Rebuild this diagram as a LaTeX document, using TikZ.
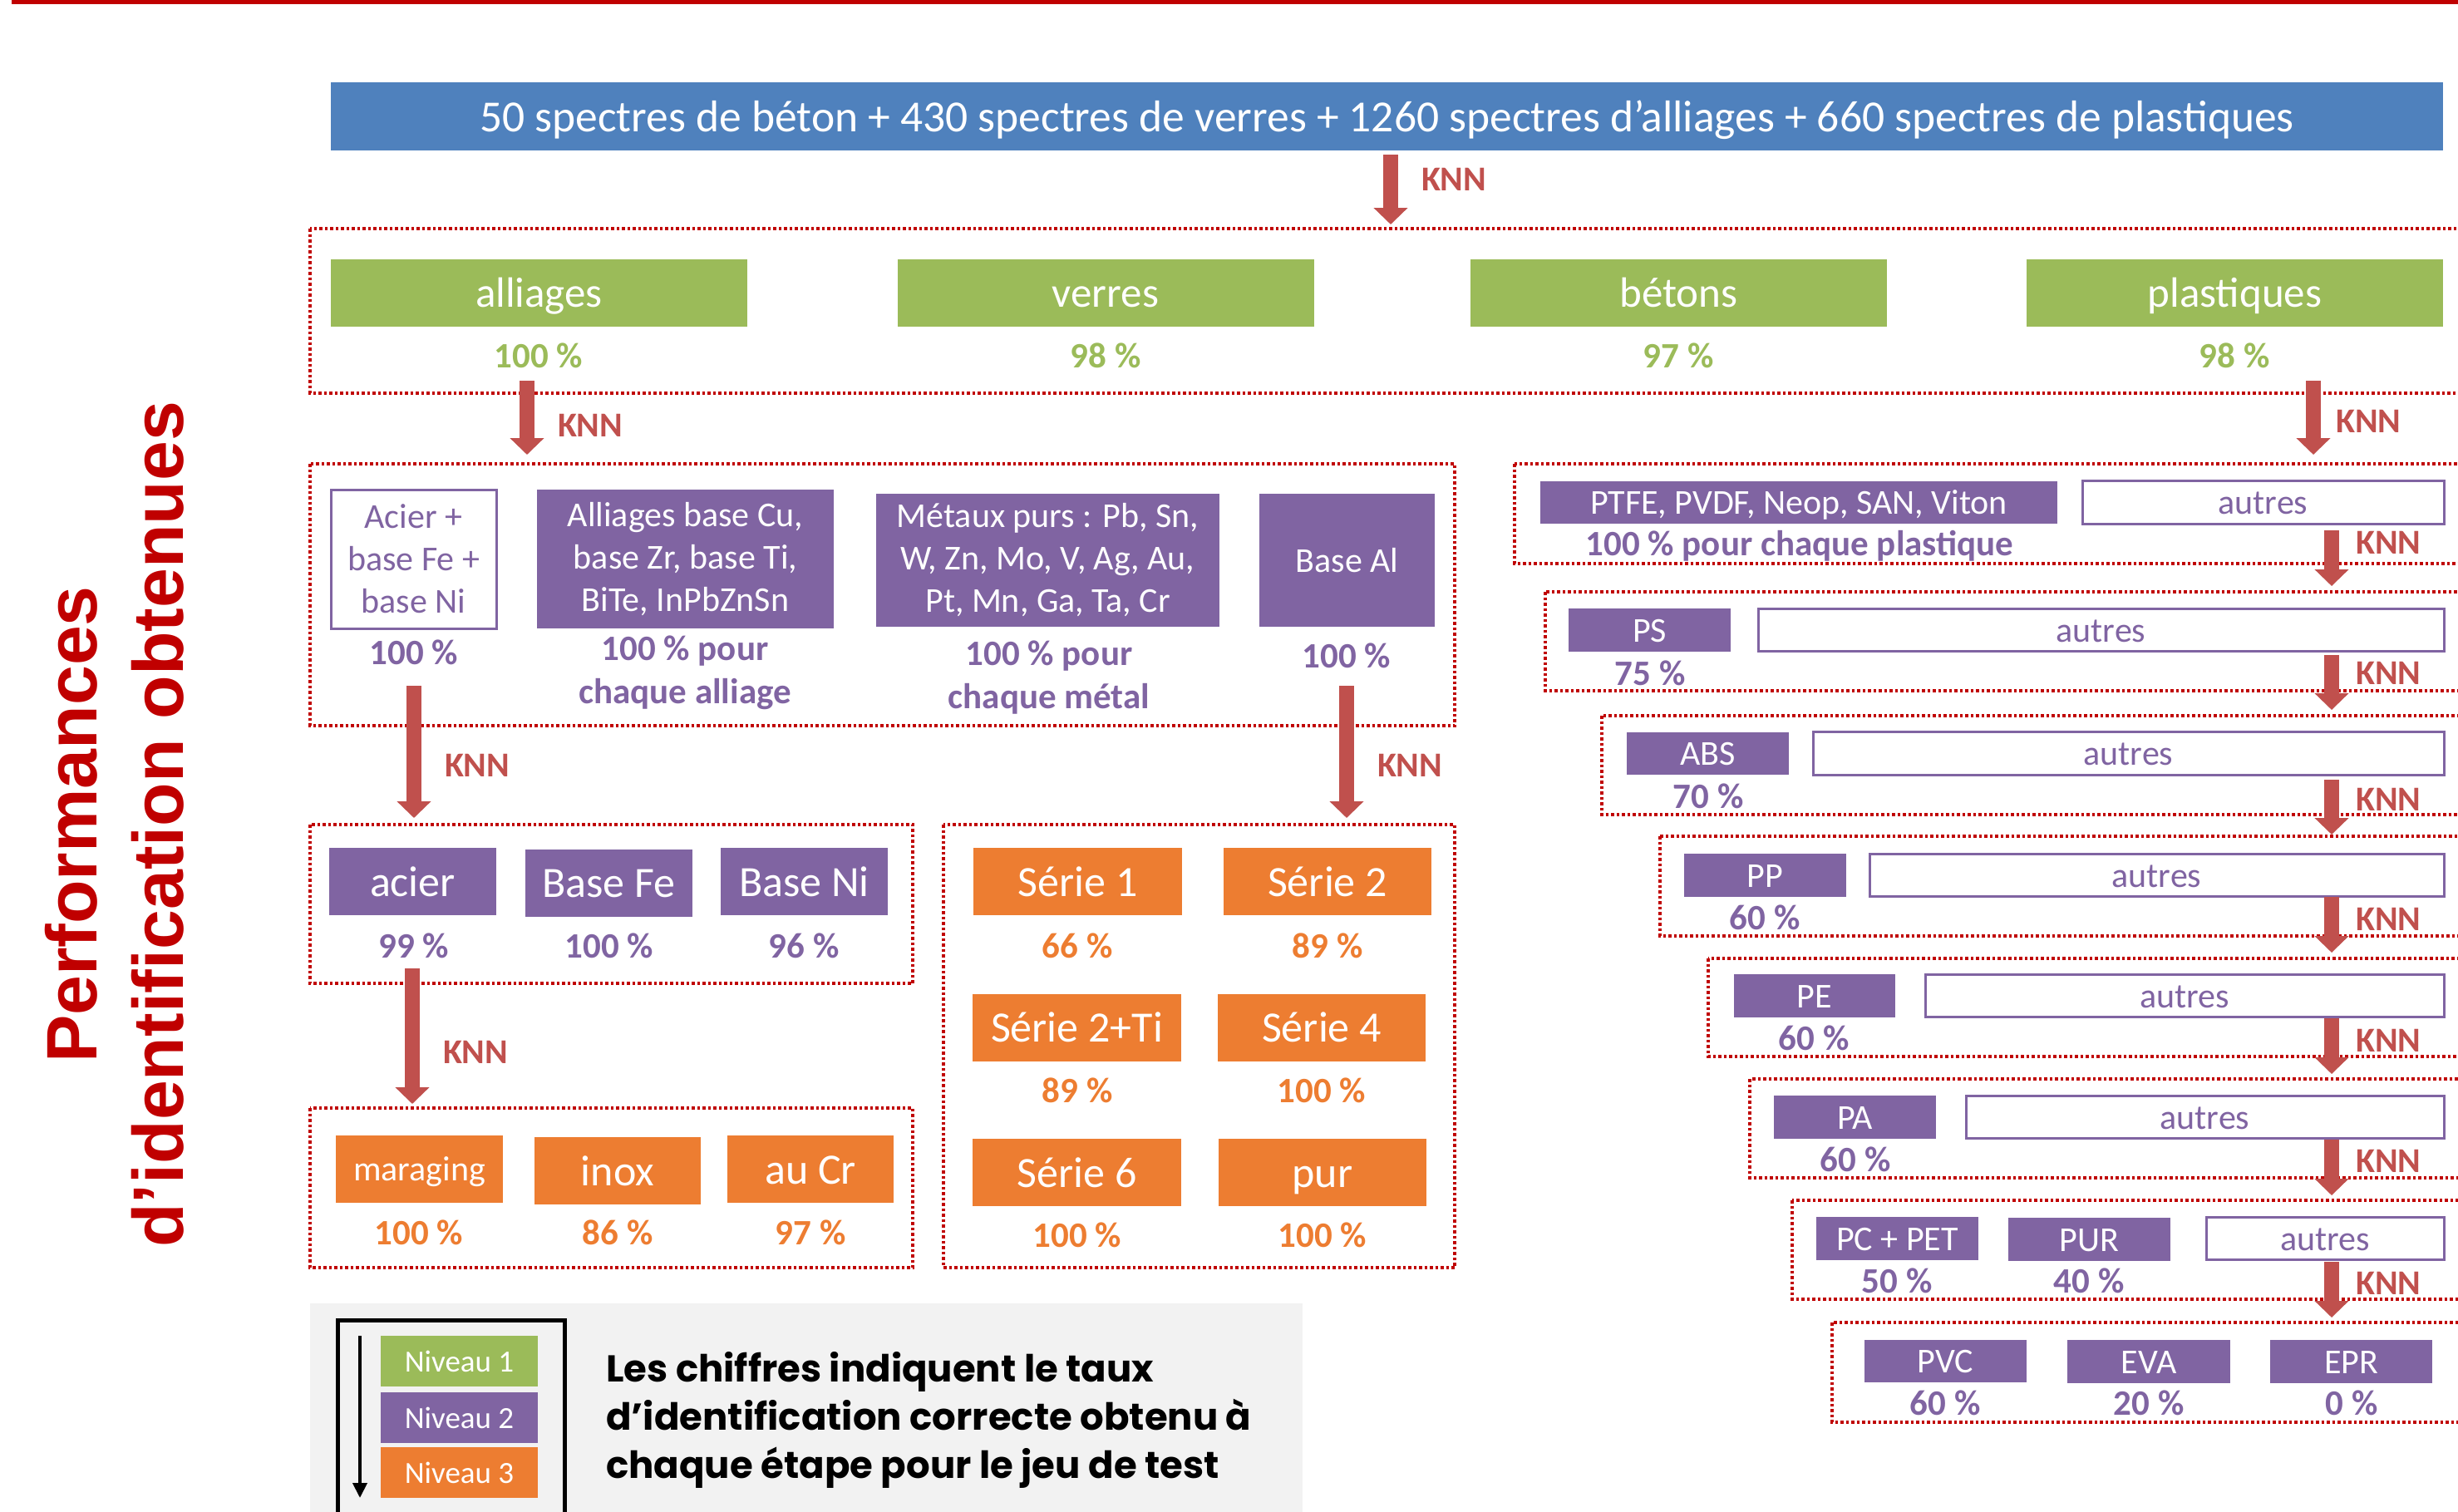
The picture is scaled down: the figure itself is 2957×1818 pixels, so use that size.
\documentclass[tikz,border=0pt]{standalone}
\usepackage{fontspec}
\setmainfont{Carlito}
\newfontfamily\titlefont{Liberation Sans}
\newfontfamily\legendfont{Poppins}
\usetikzlibrary{arrows.meta}

\definecolor{titlered}{HTML}{C00000}
\definecolor{knnred}{HTML}{C0504D}
\definecolor{lvlblue}{HTML}{4F81BD}
\definecolor{lvlgreen}{HTML}{9BBB59}
\definecolor{lvlpurple}{HTML}{8064A2}
\definecolor{lvlorange}{HTML}{ED7D31}
\definecolor{legendgrey}{HTML}{F2F2F2}

\tikzset{
  box/.style={inner sep=0pt, align=center, text=white},
  greenbox/.style={box, fill=lvlgreen, minimum width=501pt, minimum height=81pt,
    text height=48.6pt, text depth=13.7pt, font=\fontsize{51}{61}\selectfont},
  purplebox/.style={box, fill=lvlpurple},
  orangebox/.style={box, fill=lvlorange},
  otherbox/.style={box, draw=lvlpurple, line width=3pt, fill=white, text=lvlpurple},
  tallbox/.style={minimum height=81pt, text height=49.5pt, text depth=14pt, font=\fontsize{52}{63}\selectfont},
  flatbox/.style={minimum height=47pt, text height=40pt, text depth=11.3pt, font=\fontsize{42}{51}\selectfont},
  pct/.style={inner sep=0pt, align=center, font=\bfseries\fontsize{43}{52}\selectfont},
  pctgreen/.style={pct, text=lvlgreen},
  pctpurple/.style={pct, text=lvlpurple},
  pctorange/.style={pct, text=lvlorange},
  grp/.style={draw=titlered, line width=4.5pt, dash pattern=on 3.5pt off 3pt},
  knn/.style={draw=knnred, line width=18pt, -{Triangle[width=40pt,length=20pt]}},
  knnlbl/.style={anchor=west, xshift=28pt, inner sep=0pt, text=knnred, font=\bfseries\fontsize{42}{51}\selectfont},
  niveau/.style={box, minimum width=189pt, minimum height=61pt, text height=35.2pt, text depth=10pt,
    font=\fontsize{37}{45}\selectfont},
}

\begin{document}
\begin{tikzpicture}[x=1pt, y=-1pt]
\useasboundingbox (0,0) rectangle (2957,1818);
\clip (0,0) rectangle (2957,1818);

% bandeau et titre
\fill[titlered] (14,-5) rectangle (2980,5);
\node (titre) [rotate=90, inner sep=0pt, align=center, text=titlered,
  font=\titlefont\bfseries\fontsize{86}{104}\selectfont] at (138,992)
  {Performances\\d’identification obtenues};

% niveau 0
\node (spectres) [box, fill=lvlblue, minimum width=2541pt, minimum height=82pt,
  text height=50.9pt, text depth=14.4pt, font=\fontsize{53.5}{64}\selectfont] at (1668.5,140)
  {50 spectres de béton + 430 spectres de verres + 1260 spectres d’alliages + 660 spectres de plastiques};

% niveau 1
\draw[grp] (373,275) rectangle (3000,473);
\node (alliages)   [greenbox] at (648.5,352)  {alliages};
\node (verres)     [greenbox] at (1330,352)   {verres};
\node (betons)     [greenbox] at (2019.5,352) {bétons};
\node (plastiques) [greenbox] at (2688.5,352) {plastiques};
\node (pAlliages)   [pctgreen] at (648,428)  {100 \%};
\node (pVerres)     [pctgreen] at (1330,428) {98 \%};
\node (pBetons)     [pctgreen] at (2019,428) {97 \%};
\node (pPlastiques) [pctgreen] at (2688,428) {98 \%};

\coordinate (k0a) at (1673,186); \coordinate (k0b) at (1673,270);
\draw[knn] (k0a) -- node[knnlbl, pos=0.36] {KNN} (k0b);
\coordinate (k1a) at (634,458); \coordinate (k1b) at (634,547);
\draw[knn] (k1a) -- node[knnlbl, pos=0.6] {KNN} (k1b);
\coordinate (k2a) at (2783,458); \coordinate (k2b) at (2783,547);
\draw[knn] (k2a) -- node[knnlbl, pos=0.55, xshift=-10pt] {KNN} (k2b);

% niveau 2 : alliages
\draw[grp] (373,558) rectangle (1750,873);
\node (acierplus) [otherbox, minimum width=199pt, minimum height=167pt,
  font=\fontsize{42}{51}\selectfont] at (497.5,672.5) {Acier +\\base Fe +\\base Ni};
\node (cuivre) [purplebox, minimum width=357pt, minimum height=167pt,
  font=\fontsize{42}{51}\selectfont] at (824.5,672.5) {Alliages base Cu,\\base Zr, base Ti,\\BiTe, InPbZnSn};
\node (metaux) [purplebox, minimum width=413pt, minimum height=160pt,
  font=\fontsize{42}{51}\selectfont] at (1260.5,674) {Métaux purs : Pb, Sn,\\W, Zn, Mo, V, Ag, Au,\\Pt, Mn, Ga, Ta, Cr};
\node (baseAl) [purplebox, minimum width=211pt, minimum height=160pt,
  font=\fontsize{42}{51}\selectfont] at (1620.5,674) {Base Al};
\node (pAcierplus) [pctpurple] at (498,785)  {100 \%};
\node (pCuivre)    [pctpurple] at (824,809)  {100 \% pour\\chaque alliage};
\node (pMetaux)    [pctpurple] at (1262,815) {100 \% pour\\chaque métal};
\node (pBaseAl)    [pctpurple] at (1620,789) {100 \%};

\coordinate (k3a) at (498,825); \coordinate (k3b) at (498,984);
\draw[knn] (k3a) -- node[knnlbl, pos=0.6] {KNN} (k3b);
\coordinate (k4a) at (1620,825); \coordinate (k4b) at (1620,984);
\draw[knn] (k4a) -- node[knnlbl, pos=0.6] {KNN} (k4b);

% niveau 3 : aciers
\draw[grp] (373,992) rectangle (1098,1183);
\node (acier)  [purplebox, tallbox, minimum width=201pt] at (496.5,1060.5) {acier};
\node (baseFe) [purplebox, tallbox, minimum width=201pt] at (732.5,1062)   {Base Fe};
\node (baseNi) [purplebox, tallbox, minimum width=201pt] at (967.5,1060.5) {Base Ni};
\node (pAcier)  [pctpurple] at (498,1138) {99 \%};
\node (pBaseFe) [pctpurple] at (733,1138) {100 \%};
\node (pBaseNi) [pctpurple] at (967,1138) {96 \%};

\coordinate (k5a) at (496,1165); \coordinate (k5b) at (496,1328);
\draw[knn] (k5a) -- node[knnlbl, pos=0.62] {KNN} (k5b);

% niveau 3 : series
\draw[grp] (1135,992) rectangle (1750,1525);
\node (serie1)   [orangebox, tallbox, minimum width=251pt] at (1296.5,1060.5) {Série 1};
\node (serie2)   [orangebox, tallbox, minimum width=250pt] at (1597,1060.5)   {Série 2};
\node (serie2ti) [orangebox, tallbox, minimum width=251pt] at (1295.5,1236)   {Série 2+Ti};
\node (serie4)   [orangebox, tallbox, minimum width=250pt] at (1590,1236)     {Série 4};
\node (serie6)   [orangebox, tallbox, minimum width=251pt] at (1295.5,1410.5) {Série 6};
\node (pur)      [orangebox, tallbox, minimum width=250pt] at (1591,1410.5)   {pur};
\node (pSerie1)   [pctorange] at (1296,1138) {66 \%};
\node (pSerie2)   [pctorange] at (1597,1138) {89 \%};
\node (pSerie2ti) [pctorange] at (1296,1312) {89 \%};
\node (pSerie4)   [pctorange] at (1590,1312) {100 \%};
\node (pSerie6)   [pctorange] at (1296,1486) {100 \%};
\node (pPur)      [pctorange] at (1591,1486) {100 \%};

% niveau 4 : aciers
\draw[grp] (373,1333) rectangle (1098,1525);
\node (maraging) [orangebox, minimum width=201pt, minimum height=81pt,
  text height=40pt, text depth=11.3pt, font=\fontsize{42}{51}\selectfont] at (504.5,1406.5) {maraging};
\node (inox) [orangebox, tallbox, minimum width=200pt] at (743,1408.5) {inox};
\node (auCr) [orangebox, tallbox, minimum width=200pt] at (975,1406.5) {au Cr};
\node (pMaraging) [pctorange] at (504,1483) {100 \%};
\node (pInox)     [pctorange] at (743,1483) {86 \%};
\node (pAuCr)     [pctorange] at (975,1483) {97 \%};

% plastiques
\draw[grp] (1822,558) rectangle (3000,678);
\node (ptfe) [purplebox, flatbox, minimum width=622pt] at (2164,604.5) {PTFE, PVDF, Neop, SAN, Viton};
\node (autres1) [otherbox, flatbox, minimum width=435pt] at (2722.5,604.5) {autres};
\node (pPtfe) [pctpurple] at (2165,657) {100 \% pour chaque plastique};
\coordinate (p1a) at (2805,638); \coordinate (p1b) at (2805,705);
\draw[knn] (p1a) -- node[knnlbl, pos=0.22, xshift=-8pt] {KNN} (p1b);

\draw[grp] (1859,712) rectangle (3000,831);
\node (ps) [purplebox, flatbox, minimum width=195pt] at (1984.5,758) {PS};
\node (autres2) [otherbox, flatbox, minimum width=825pt] at (2527.5,758) {autres};
\node (pPs) [pctpurple] at (1985,810) {75 \%};
\coordinate (p2a) at (2805,788); \coordinate (p2b) at (2805,854);
\draw[knn] (p2a) -- node[knnlbl, pos=0.33, xshift=-8pt] {KNN} (p2b);

\draw[grp] (1927,861) rectangle (3000,980);
\node (abs) [purplebox, flatbox, minimum width=195pt] at (2054.5,906.5) {ABS};
\node (autres3) [otherbox, flatbox, minimum width=759pt] at (2560.5,906.5) {autres};
\node (pAbs) [pctpurple] at (2055,958) {70 \%};
\coordinate (p3a) at (2805,938); \coordinate (p3b) at (2805,1004);
\draw[knn] (p3a) -- node[knnlbl, pos=0.36, xshift=-8pt] {KNN} (p3b);

\draw[grp] (1997,1006) rectangle (3000,1126);
\node (pp) [purplebox, flatbox, minimum width=195pt] at (2123.5,1053) {PP};
\node (autres4) [otherbox, flatbox, minimum width=691pt] at (2594.5,1053) {autres};
\node (pPp) [pctpurple] at (2123,1104) {60 \%};
\coordinate (p4a) at (2805,1079); \coordinate (p4b) at (2805,1146);
\draw[knn] (p4a) -- node[knnlbl, pos=0.4, xshift=-8pt] {KNN} (p4b);

\draw[grp] (2055,1153) rectangle (3000,1271);
\node (pe) [purplebox, flatbox, minimum width=194pt] at (2183,1198) {PE};
\node (autres5) [otherbox, flatbox, minimum width=624pt] at (2628,1198) {autres};
\node (pPe) [pctpurple] at (2182,1249) {60 \%};
\coordinate (p5a) at (2805,1225); \coordinate (p5b) at (2805,1292);
\draw[knn] (p5a) -- node[knnlbl, pos=0.4, xshift=-8pt] {KNN} (p5b);

\draw[grp] (2105,1298) rectangle (3000,1417);
\node (pa) [purplebox, flatbox, minimum width=195pt] at (2231.5,1344) {PA};
\node (autres6) [otherbox, flatbox, minimum width=575pt] at (2652.5,1344) {autres};
\node (pPa) [pctpurple] at (2232,1395) {60 \%};
\coordinate (p6a) at (2805,1371); \coordinate (p6b) at (2805,1438);
\draw[knn] (p6a) -- node[knnlbl, pos=0.39, xshift=-8pt] {KNN} (p6b);

\draw[grp] (2156,1444) rectangle (3000,1563);
\node (pcpet) [purplebox, flatbox, minimum width=195pt] at (2282.5,1490) {PC + PET};
\node (pur2) [purplebox, flatbox, minimum width=195pt] at (2513.5,1491) {PUR};
\node (autres7) [otherbox, flatbox, minimum width=286pt] at (2797,1490) {autres};
\node (pPcpet) [pctpurple] at (2282,1541) {50 \%};
\node (pPur2)  [pctpurple] at (2513,1541) {40 \%};
\coordinate (p7a) at (2805,1518); \coordinate (p7b) at (2805,1585);
\draw[knn] (p7a) -- node[knnlbl, pos=0.39, xshift=-8pt] {KNN} (p7b);

\draw[grp] (2204,1591) rectangle (3000,1711);
\node (pvc) [purplebox, flatbox, minimum width=195pt] at (2340.5,1637.5) {PVC};
\node (eva) [purplebox, flatbox, minimum width=196pt] at (2585,1638)    {EVA};
\node (epr) [purplebox, flatbox, minimum width=195pt] at (2828.5,1638)  {EPR};
\node (pPvc) [pctpurple] at (2340,1688) {60 \%};
\node (pEva) [pctpurple] at (2585,1688) {20 \%};
\node (pEpr) [pctpurple] at (2829,1688) {0 \%};

% legende
\fill[legendgrey] (373,1568) rectangle (1567,1830);
\draw[line width=5pt] (406,1830) -- (406,1588) -- (679,1588) -- (679,1830);
\node (niv1) [niveau, fill=lvlgreen]  at (552.5,1637.5) {Niveau 1};
\node (niv2) [niveau, fill=lvlpurple] at (552.5,1705.5) {Niveau 2};
\node (niv3) [niveau, fill=lvlorange] at (552.5,1771.5) {Niveau 3};
\coordinate (n0) at (433,1607); \coordinate (n1) at (433,1802);
\draw[line width=4pt, -{Triangle[width=17pt,length=18pt]}] (n0) -- (n1);
\node (legende) [anchor=west, inner sep=0pt, align=left,
  font=\legendfont\bfseries\fontsize{45}{58}\selectfont] at (729,1708)
  {Les chiffres indiquent le taux\\d’identification correcte obtenu à\\chaque étape pour le jeu de test};
\end{tikzpicture}
\end{document}
